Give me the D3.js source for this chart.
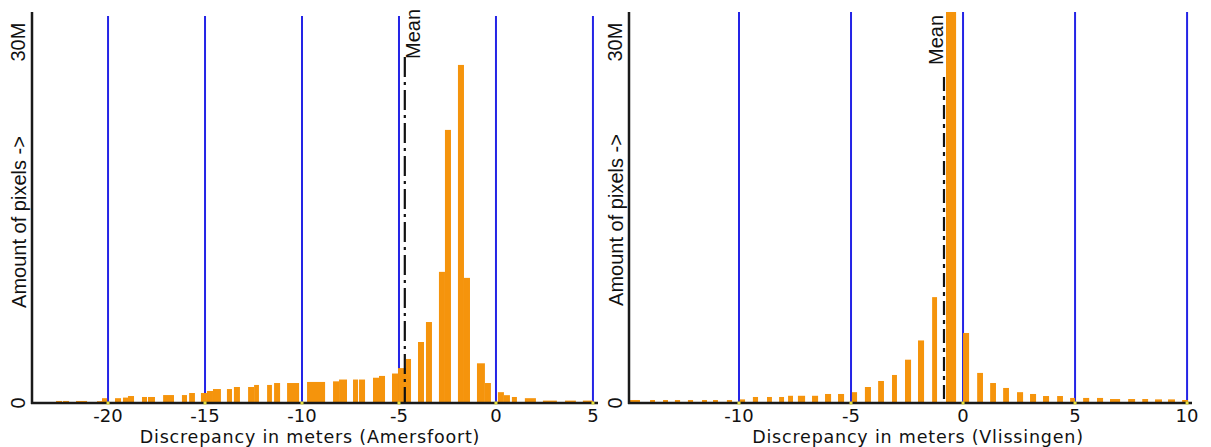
<!DOCTYPE html>
<html>
<head>
<meta charset="utf-8">
<script src="https://cdn.jsdelivr.net/npm/d3@7/dist/d3.min.js"></script>
<style>
html,body{margin:0;padding:0;background:#fff;}
svg{display:block;}
</style>
</head>
<body>
<svg id="chart" width="1211" height="447"></svg>
<script>
// ---------- DATA ----------
// Amersfoort histogram bins: [from (m), to (m), pixels (millions)]
const amersfoortBins = [
  [-22.68,-22.37,0.17],[-22.32,-22.01,0.17],[-21.65,-21.08,0.17],[-20.57,-20.31,0.15],
  [-20.31,-20.05,0.40],[-19.64,-19.33,0.40],[-19.23,-18.97,0.45],[-18.97,-18.66,0.58],
  [-18.25,-17.99,0.50],[-17.94,-17.58,0.50],[-17.16,-16.60,0.66],[-16.19,-15.93,0.66],
  [-15.82,-15.52,0.83],[-15.21,-14.90,0.83],[-14.90,-14.59,1.00],[-14.59,-14.18,1.16],
  [-13.87,-13.61,1.16],[-13.51,-13.20,1.33],[-12.78,-12.47,1.33],[-12.47,-12.22,1.50],
  [-11.80,-11.55,1.50],[-11.44,-11.13,1.66],[-10.77,-10.15,1.66],[-9.74,-8.81,1.75],
  [-8.40,-8.09,1.80],[-8.09,-7.68,1.95],[-7.37,-7.11,1.95],[-7.06,-6.75,1.95],
  [-6.34,-6.03,2.10],[-6.03,-5.72,2.25],[-5.36,-5.05,2.45],[-5.05,-4.64,2.90],
  [-4.64,-4.38,3.66],[-4.02,-3.71,5.07],[-3.61,-3.30,6.73],[-2.94,-2.63,10.9],
  [-2.63,-2.32,22.7],[-1.96,-1.65,28.1],[-1.65,-1.34,10.4],[-0.98,-0.57,3.30],
  [-0.57,-0.26,1.66],[0.10,0.41,0.90],[0.41,0.72,0.65],[0.82,1.08,0.50],
  [1.49,2.06,0.40],[2.42,3.14,0.20],[3.56,4.12,0.20],[4.48,5.00,0.20]
];
// Vlissingen histogram bins: [from (m), to (m), pixels (millions)]
const vlissingenBins = [
  [-14.87,-14.42,0.25],[-13.97,-13.75,0.25],[-13.39,-13.17,0.25],[-12.86,-12.63,0.25],
  [-12.28,-12.05,0.25],[-11.65,-11.43,0.25],[-11.16,-10.94,0.25],[-10.54,-10.31,0.25],
  [-9.96,-9.73,0.30],[-9.38,-9.15,0.50],[-8.75,-8.53,0.50],[-8.21,-7.99,0.50],
  [-7.81,-7.59,0.60],[-7.37,-7.05,0.60],[-6.74,-6.47,0.60],[-6.16,-5.89,0.75],
  [-5.58,-5.31,0.75],[-4.96,-4.73,0.90],[-4.38,-4.11,1.33],[-3.79,-3.53,1.83],
  [-3.17,-2.95,2.33],[-2.59,-2.32,3.60],[-2.01,-1.74,5.20],[-1.38,-1.16,8.80],
  [-0.76,-0.31,40.0],[0.00,0.27,5.82],[0.63,0.89,2.50],[1.21,1.47,1.66],
  [1.79,2.05,1.25],[2.41,2.68,0.90],[2.99,3.26,0.75],[3.57,3.84,0.58],
  [4.20,4.46,0.58],[4.78,5.00,0.42],[5.36,5.63,0.42],[5.98,6.25,0.42],
  [6.56,7.01,0.33],[7.37,7.68,0.33],[8.00,8.26,0.33],[8.57,8.88,0.30],
  [9.15,9.46,0.30],[9.78,10.04,0.25]
];
const amersfoortTicks = [-20,-15,-10,-5,0,5];
const vlissingenTicks = [-10,-5,0,5,10];
const yTicks = [0,30];            // millions
const yTickLabels = ["0","30M"];
const amersfoortMean = -4.7;
const vlissingenMean = -0.85;
const amersfoortTitle = "Discrepancy in meters (Amersfoort)";
const vlissingenTitle = "Discrepancy in meters (Vlissingen)";
const yTitle = "Amount of pixels ->";
const meanLabel = "Mean";

// ---------- DRAW ----------
const svg = d3.select("#chart");
const BAR = "#f5940c", BLUE = "#2424e6";
const xFont = "'DejaVu Sans', sans-serif";
const yFont = "'Liberation Sans', Arial, sans-serif";

function panel(o){
  const g = svg.append("g");
  const x = d3.scaleLinear().domain(o.domain).range([o.left, o.right]);
  const y = d3.scaleLinear().domain([0, 32.5]).range([o.base, o.top]);
  const clipId = "clip" + o.id;
  svg.append("defs").append("clipPath").attr("id", clipId)
    .append("rect").attr("x", o.left).attr("y", o.top)
    .attr("width", o.right - o.left).attr("height", o.base - o.top);

  // blue reference lines at ticks
  g.selectAll("line.ref").data(o.ticks).join("line")
    .attr("x1", d => x(d)).attr("x2", d => x(d))
    .attr("y1", o.refTop).attr("y2", o.base)
    .attr("stroke", BLUE).attr("stroke-width", 2);

  // bars
  g.append("g").attr("clip-path", `url(#${clipId})`)
    .selectAll("rect").data(o.bins).join("rect")
    .attr("x", d => x(d[0]))
    .attr("width", d => x(d[1]) - x(d[0]))
    .attr("y", d => y(d[2]))
    .attr("height", d => y(0) - y(d[2]))
    .attr("fill", BAR);

  // mean line
  g.append("line")
    .attr("x1", x(o.mean)).attr("x2", x(o.mean))
    .attr("y1", o.meanTop).attr("y2", o.base)
    .attr("stroke", "#111").attr("stroke-width", 2.2)
    .attr("stroke-dasharray", o.dash);
  g.append("text")
    .attr("transform", `translate(${x(o.mean) + o.meanDx},${o.meanTextY}) rotate(-90)`)
    .attr("text-anchor", "start")
    .attr("font-family", yFont).attr("font-size", 20)
    .attr("fill", "#111").text(meanLabel);

  // axes
  g.append("line").attr("x1", o.left).attr("x2", o.left)
    .attr("y1", o.top).attr("y2", o.base + 1)
    .attr("stroke", "#1a1a1a").attr("stroke-width", 2.5);
  g.append("line").attr("x1", o.left - 1).attr("x2", o.right)
    .attr("y1", o.base).attr("y2", o.base)
    .attr("stroke", "#1a1a1a").attr("stroke-width", 2.5);

  // small yellow tick marks
  g.selectAll("rect.tk").data(o.ticks).join("rect")
    .attr("x", d => x(d) - 1.5).attr("y", o.base - 1.5)
    .attr("width", 3).attr("height", 3).attr("fill", "#e6e040");

  // x tick labels
  g.selectAll("text.xt").data(o.ticks).join("text")
    .attr("x", d => x(d)).attr("y", o.base + 19)
    .attr("text-anchor", "middle")
    .attr("font-family", xFont).attr("font-size", 18)
    .attr("fill", "#111").text(d => d);

  // x title
  g.append("text").attr("x", o.titleX).attr("y", 442.5)
    .attr("text-anchor", "middle")
    .attr("font-family", xFont).attr("font-size", 17.5)
    .attr("letter-spacing", 0.8)
    .attr("fill", "#111").text(o.title);

  // y tick labels (rotated)
  g.selectAll("text.yt").data(yTicks).join("text")
    .attr("transform", d => `translate(${o.left - 7},${y(d)}) rotate(-90)`)
    .attr("text-anchor", "middle")
    .attr("font-family", yFont).attr("font-size", 20)
    .attr("fill", "#111").text((d, i) => yTickLabels[i]);

  // y title
  g.append("text")
    .attr("transform", `translate(${o.left - 6},${o.yTitleY}) rotate(-90)`)
    .attr("text-anchor", "middle")
    .attr("font-family", yFont).attr("font-size", 20)
    .attr("fill", "#111").text(yTitle);
}

panel({
  id: "A", bins: amersfoortBins, ticks: amersfoortTicks,
  domain: [-23.92, 5.26], left: 32, right: 598, top: 12, base: 403,
  refTop: 16, mean: amersfoortMean, meanTop: 57, meanTextY: 59, meanDx: 15,
  dash: "20,5,3,5", title: amersfoortTitle, titleX: 310, yTitleY: 222
});
panel({
  id: "B", bins: vlissingenBins, ticks: vlissingenTicks,
  domain: [-14.91, 10.22], left: 629, right: 1192, top: 12, base: 403,
  refTop: 12, mean: vlissingenMean, meanTop: 77, meanTextY: 65, meanDx: -1,
  dash: "14,5,4,5", title: vlissingenTitle, titleX: 918, yTitleY: 220
});
</script>
</body>
</html>
